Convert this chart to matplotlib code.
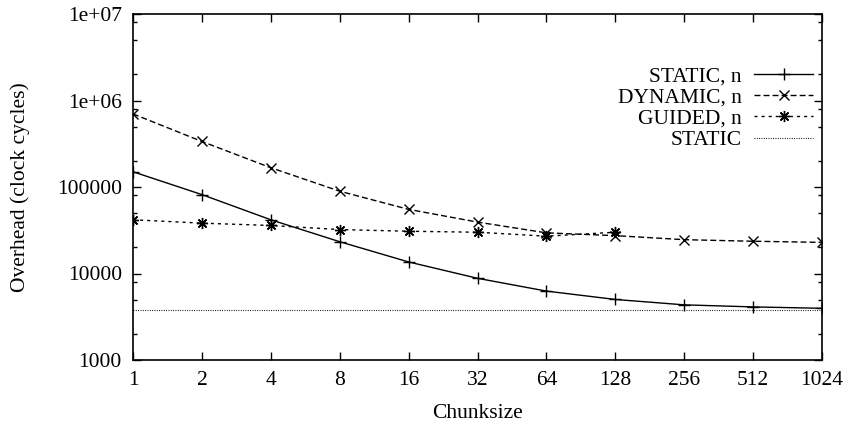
import matplotlib
matplotlib.use("Agg")
import matplotlib.pyplot as plt
from matplotlib.ticker import LogLocator, FixedLocator, FixedFormatter, NullFormatter

plt.rcParams['font.family'] = ['Liberation Serif', 'DejaVu Serif']

chunks = [1, 2, 4, 8, 16, 32, 64, 128, 256, 512, 1024]
static_n = [150000, 81700, 41800, 23300, 13600, 8800, 6260, 5010, 4340, 4110, 3960]
dynamic_n = [700000, 336000, 167000, 89400, 55100, 39300, 29500, 27400, 24600, 23600, 22900]
guided_chunks = [1, 2, 4, 8, 16, 32, 64, 128]
guided_n = [41800, 38200, 35900, 32200, 30800, 30000, 27000, 30000]
static_const = [3830] * len(chunks)

xtick_labels = [str(c) for c in chunks]
ytick_vals = [1000, 10000, 100000, 1000000, 10000000]
ytick_labels = ["1000", "10000", "100000", "1e+06", "1e+07"]

fig = plt.figure(figsize=(8.5, 4.3), dpi=100)
ax = fig.add_axes([133/850, 1-360/430, (822-133)/850, (360-14)/430])

fs = 15.5
ax.plot(chunks, static_n, color='black', lw=1.0, marker='+', ms=8.5, mew=1.0,
        label='STATIC, n')
ax.plot(chunks, dynamic_n, color='black', lw=1.0, marker='x', ms=7, mew=1.0,
        dashes=(4.3, 2.2), label='DYNAMIC, n')
ax.plot(guided_chunks, guided_n, color='black', lw=1.0, marker=(8, 2, 0), ms=8, mew=1.0,
        dashes=(2.2, 2.9), label='GUIDED, n')
ax.plot(chunks, static_const, color='black', lw=0.8, dashes=(0.8, 1.3), label='STATIC')

ax.set_xscale('log', base=2)
ax.set_yscale('log')
ax.set_xlim(1, 1024)
ax.set_ylim(1000, 1e7)

ax.xaxis.set_major_locator(FixedLocator(chunks))
ax.xaxis.set_major_formatter(FixedFormatter(xtick_labels))
ax.xaxis.set_minor_locator(FixedLocator([]))
ax.yaxis.set_major_locator(FixedLocator(ytick_vals))
ax.yaxis.set_major_formatter(FixedFormatter(ytick_labels))
ax.yaxis.set_minor_locator(LogLocator(base=10, subs=(2, 5, 8)))
ax.yaxis.set_minor_formatter(NullFormatter())

ax.tick_params(which='both', direction='in', top=True, right=True, labelsize=fs, width=1.0)
ax.tick_params(which='major', length=5.5, pad=8)
ax.tick_params(which='minor', length=3)
for s in ax.spines.values():
    s.set_linewidth(1.2)

ax.set_xlabel('Chunksize', fontsize=fs, labelpad=10)
ax.set_ylabel('Overhead (clock cycles)', fontsize=fs, labelpad=19)

leg = ax.legend(loc='upper right', bbox_to_anchor=(1.002, 0.879), markerfirst=False,
                frameon=False, fontsize=fs, handlelength=2.7, handletextpad=0.6,
                labelspacing=0.05, borderpad=0)

fig.savefig('out.png', dpi=100)
